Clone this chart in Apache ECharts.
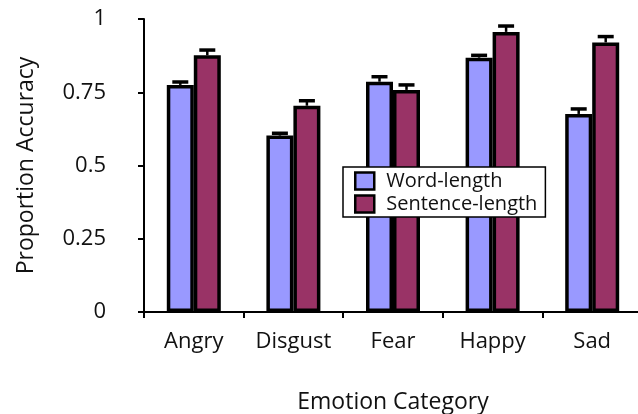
<!DOCTYPE html>
<html>
<head>
<meta charset="utf-8">
<script src="https://cdn.jsdelivr.net/npm/echarts@6/dist/echarts.min.js"></script>
<style>
  html, body { margin: 0; padding: 0; background: #fff; }
  #chart { width: 638px; height: 414px; }
</style>
</head>
<body>
<div id="chart"></div>
<script>
var categories = ['Angry', 'Disgust', 'Fear', 'Happy', 'Sad'];
var wordLength = [0.775, 0.602, 0.786, 0.868, 0.676];
var sentenceLength = [0.876, 0.704, 0.758, 0.956, 0.920];
var wordErr = [0.01, 0.008, 0.017, 0.008, 0.017];
var sentenceErr = [0.018, 0.017, 0.017, 0.02, 0.02];
var yTicks = [0, 0.25, 0.5, 0.75, 1];

var font = 'Open Sans';
var barWidth = 27;

function errSeries(name, vals, errs, side) {
    return {
        name: name + '-err',
        type: 'custom',
        z: 5,
        data: vals.map(function (v, i) { return [i, v, v + errs[i]]; }),
        renderItem: function (params, api) {
            var c = api.coord([api.value(0), api.value(1)]);
            var top = api.coord([api.value(0), api.value(2)]);
            var x = c[0] + side * barWidth / 2;
            return {
                type: 'group',
                children: [
                    {type: 'line', shape: {x1: x, y1: c[1], x2: x, y2: top[1]},
                        style: {stroke: '#000', lineWidth: 2.5}},
                    {type: 'line', shape: {x1: x - 8, y1: top[1], x2: x + 8, y2: top[1]},
                        style: {stroke: '#000', lineWidth: 3.5}}
                ]
            };
        }
    };
}

var chart = echarts.init(document.getElementById('chart'));
chart.setOption({
    animation: false,
    textStyle: {fontFamily: font},
    grid: {left: 144, top: 19, width: 498, height: 293, outerBoundsMode: 'none'},
    legend: {
        data: ['Word-length', 'Sentence-length'],
        orient: 'vertical',
        left: 343,
        top: 167,
        padding: [4, 8, 3, 11],
        icon: 'rect',
        itemWidth: 19,
        itemHeight: 17,
        itemGap: 3,
        borderColor: '#000',
        borderWidth: 1.5,
        borderRadius: 0,
        backgroundColor: '#fff',
        itemStyle: {borderColor: '#000', borderWidth: 2.5},
        textStyle: {fontSize: 20, color: '#111', fontFamily: font, padding: [0, 0, 0, 7]}
    },
    xAxis: {
        type: 'category',
        data: categories,
        name: 'Emotion Category',
        nameLocation: 'middle',
        nameGap: 79,
        nameTextStyle: {fontSize: 23, color: '#111', fontFamily: font},
        axisLine: {lineStyle: {color: '#000', width: 2}},
        axisTick: {show: true, length: 6, lineStyle: {color: '#000', width: 2}},
        axisLabel: {fontSize: 22, color: '#111', margin: 19, fontFamily: font}
    },
    yAxis: {
        type: 'value',
        min: yTicks[0],
        max: yTicks[yTicks.length - 1],
        interval: 0.25,
        name: 'Proportion Accuracy',
        nameLocation: 'middle',
        nameGap: 106,
        nameTextStyle: {fontSize: 23, color: '#111', fontFamily: font},
        axisLine: {show: true, lineStyle: {color: '#000', width: 2}},
        axisTick: {show: true, length: 6, lineStyle: {color: '#000', width: 2}},
        axisLabel: {fontSize: 22, color: '#111', margin: 38, fontFamily: font},
        splitLine: {show: false}
    },
    series: [
        {
            name: 'Word-length',
            type: 'bar',
            data: wordLength,
            barWidth: barWidth,
            barGap: '0%',
            itemStyle: {color: '#9999FF', borderColor: '#000', borderWidth: 3.5}
        },
        {
            name: 'Sentence-length',
            type: 'bar',
            data: sentenceLength,
            barWidth: barWidth,
            barGap: '0%',
            itemStyle: {color: '#993366', borderColor: '#000', borderWidth: 3.5}
        },
        errSeries('Word-length', wordLength, wordErr, -1),
        errSeries('Sentence-length', sentenceLength, sentenceErr, 1)
    ]
});
</script>
</body>
</html>
